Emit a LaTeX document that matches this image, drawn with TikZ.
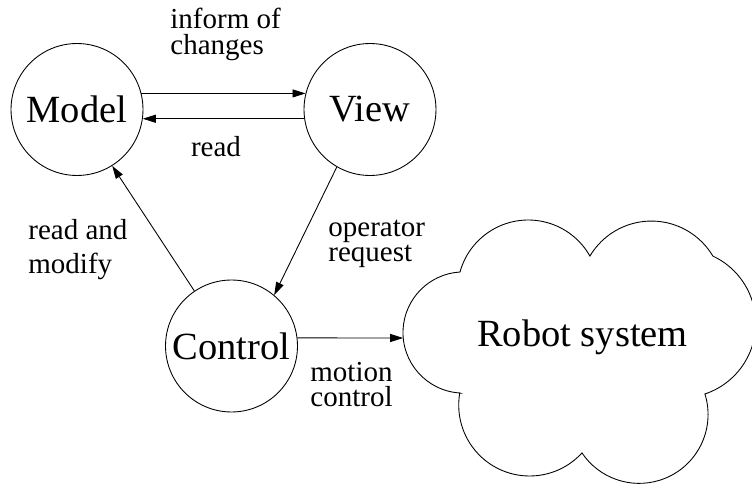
\documentclass[tikz,border=0pt]{standalone}
\usepackage{fontspec}
\setmainfont{Liberation Serif}
\usetikzlibrary{arrows.meta}
\usetikzlibrary{positioning}

\begin{document}
\begin{tikzpicture}[x=0.02cm, y=0.02cm, line width=0.5pt]
 \tikzstyle{mvc}=[circle, draw, minimum size=2.64cm, inner sep=0pt, font=\fontsize{21.9}{26}\selectfont]
 \tikzstyle{lbl}=[align=left, anchor=west, inner sep=0pt]
 \tikzstyle{line} = [draw, -{Triangle[length=2.6mm, width=1.6mm]}]

 \useasboundingbox (0,0) rectangle (752,484);

 \draw (77, 374.5) node[mvc] (model) {Model};
 \draw (370, 374.5) node[mvc] (view) {View};
 \draw (231.5, 138) node[mvc] (control) {Control};

 % robot system cloud, one arc per puff
 \draw (460,91) arc[start angle=266.6, end angle=93.4, radius=60.6]
   arc[start angle=164.6, end angle=29.4, radius=70.8]
   arc[start angle=149.3, end angle=30.7, radius=71.5]
   arc[start angle=64.9, end angle=-71.5, radius=74.4]
   arc[start angle=17.3, end angle=-146.1, radius=68.9]
   arc[start angle=-42.4, end angle=-189.9, radius=70.9] -- cycle;
 \draw (582.5, 147) node[font=\fontsize{21.9}{26}\selectfont] (robot) {Robot system};
 \coordinate (robotin) at (403.2, 146);

 \draw (170, 449.6) node[lbl, font=\fontsize{16.5}{14.8}\selectfont] (informlbl) {inform of\\changes};
 \draw (216, 337) node[font=\fontsize{16.5}{18}\selectfont] (readlbl) {read};
 \draw (28, 234.6) node[lbl, font=\fontsize{16.5}{19.3}\selectfont] (modifylbl) {read and\\modify};
 \draw (328, 240) node[lbl, font=\fontsize{16.5}{14.2}\selectfont] (requestlbl) {operator\\request};
 \draw (310, 99.3) node[lbl, font=\fontsize{16.5}{14.2}\selectfont] (motionlbl) {motion\\control};

 \path [line] (model.14) -- (view.166);
 \path [line] (view.-172) -- (model.-8);
 \path [line] (control.124) -- (model.-58);
 \path [line] (view.-120) -- (control.50);
 \path [line] (control.7) -- (robotin);

\end{tikzpicture}
\end{document}
